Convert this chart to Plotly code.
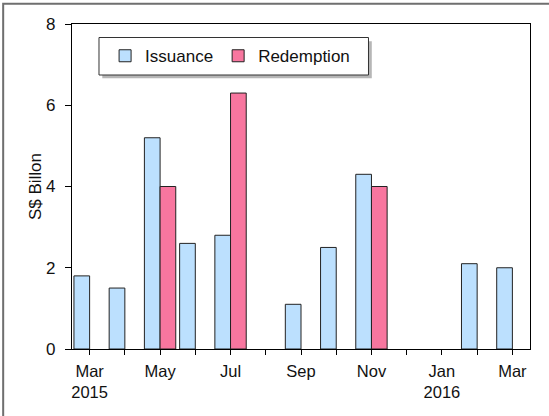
import plotly.graph_objects as go

months = ["Mar 2015", "Apr 2015", "May 2015", "Jun 2015", "Jul 2015", "Aug 2015",
          "Sep 2015", "Oct 2015", "Nov 2015", "Dec 2015", "Jan 2016", "Feb 2016", "Mar 2016"]
issuance = [1.8, 1.5, 5.2, 2.6, 2.8, None, 1.1, 2.5, 4.3, None, None, 2.1, 2.0]
redemption = [None, None, 4.0, None, 6.3, None, None, None, 4.0, None, None, None, None]
tick_text = ["Mar<br>2015", "", "May", "", "Jul", "", "Sep", "", "Nov", "", "Jan<br>2016", "", "Mar"]

FONT = "Liberation Sans, Arial, sans-serif"

# plot area in pixels
L, R, T, B = 71.65, 530.5, 24.3, 349.3
W, H = R - L, B - T

def px(x):
    return (x - L) / W

def py(y):
    return 1 - (y - T) / H

fig = go.Figure()
fig.add_trace(go.Bar(x=months, y=issuance, name="Issuance",
                     marker=dict(color="#BCE0FE", line=dict(color="#222222", width=1))))
fig.add_trace(go.Bar(x=months, y=redemption, name="Redemption",
                     marker=dict(color="#F8769F", line=dict(color="#222222", width=1))))

shapes = [
    # outer frame (cropped)
    dict(type="rect", xref="paper", yref="paper", x0=px(2.7), x1=px(560), y0=py(430), y1=py(4),
         line=dict(color="#6f6f6f", width=2), fillcolor="rgba(0,0,0,0)"),
    # legend shadow
    dict(type="rect", xref="paper", yref="paper", x0=px(102.0), x1=px(372.0), y0=py(78.5), y1=py(41.5),
         line=dict(width=0), fillcolor="rgba(110,110,110,0.5)"),
    # legend box
    dict(type="rect", xref="paper", yref="paper", x0=px(98.7), x1=px(368.7), y0=py(75.3), y1=py(37.8),
         line=dict(color="#333333", width=1), fillcolor="white"),
]

fig.update_layout(
    template="none",
    width=549, height=416,
    margin=dict(l=L, r=549 - R, t=T, b=416 - B, pad=0),
    paper_bgcolor="white", plot_bgcolor="white",
    font=dict(family=FONT, size=17, color="#111111"),
    barmode="group", bargap=0.11, bargroupgap=0,
    showlegend=True,
    legend=dict(orientation="h", x=px(104.8), y=py(38.5), xanchor="left", yanchor="top",
                bgcolor="rgba(0,0,0,0)", borderwidth=0,
                font=dict(family=FONT, size=17, color="#111111"),
                itemclick=False, itemdoubleclick=False),
    shapes=shapes,
)
fig.update_xaxes(
    type="category", tickmode="array", tickvals=months, ticktext=tick_text,
    showline=True, linecolor="black", linewidth=1.3, mirror=True,
    ticks="outside", ticklen=5, tickcolor="black", tickwidth=1.3,
    tickfont=dict(family=FONT, size=16.5, color="#111111"),
    showgrid=False, zeroline=False, ticklabelstandoff=2, automargin=False,
)
fig.update_yaxes(
    range=[0, 8], dtick=2, tick0=0,
    showline=True, linecolor="black", linewidth=1.3, mirror=True,
    ticks="outside", ticklen=6, tickcolor="black", tickwidth=1.3,
    tickfont=dict(family=FONT, size=17, color="#111111"),
    showgrid=False, zeroline=False, ticklabelstandoff=6, automargin=False,
    title=dict(text="S$ Billon", font=dict(family=FONT, size=17, color="#111111"), standoff=0),
)

fig.write_html("out.html", config={"displayModeBar": False},
               post_script="document.body.style.margin='0';")
